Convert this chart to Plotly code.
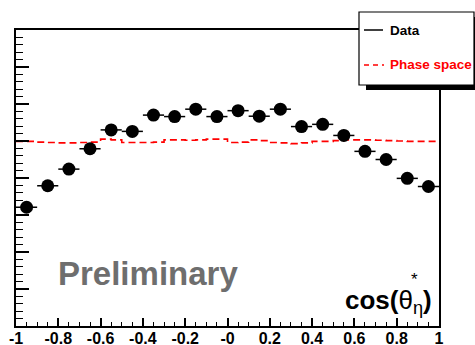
import plotly.graph_objects as go

# ---- data ----
bin_centers = [-0.95, -0.85, -0.75, -0.65, -0.55, -0.45, -0.35, -0.25, -0.15, -0.05,
               0.05, 0.15, 0.25, 0.35, 0.45, 0.55, 0.65, 0.75, 0.85, 0.95]
data_y = [3.21, 3.79, 4.24, 4.79, 5.30, 5.26, 5.70, 5.66, 5.86, 5.66,
          5.82, 5.67, 5.86, 5.39, 5.45, 5.15, 4.72, 4.50, 3.99, 3.77]
data_xerr = [0.05] * 20

ps_edges = [-1.0, -0.95, -0.9, -0.85, -0.8, -0.75, -0.7, -0.65, -0.6, -0.55,
            -0.5, -0.45, -0.4, -0.35, -0.3, -0.25, -0.2, -0.15, -0.1, -0.05,
            0.0, 0.05, 0.1, 0.15, 0.2, 0.25, 0.3, 0.35, 0.4, 0.45,
            0.5, 0.55, 0.6, 0.65, 0.7, 0.75, 0.8, 0.85, 0.9, 0.95, 1.0]
ps_y = [4.99, 4.99, 4.97, 4.96, 4.95, 4.95, 4.96, 4.97, 5.05, 5.03,
        4.96, 4.96, 4.96, 4.97, 5.03, 5.03, 5.02, 5.03, 5.05, 5.05,
        4.96, 4.97, 5.03, 5.01, 4.96, 4.95, 4.93, 4.95, 4.99, 4.99,
        5.01, 5.03, 5.03, 5.03, 5.02, 5.01, 5.00, 4.99, 4.99, 4.99]

x_tickvals = [-1, -0.8, -0.6, -0.4, -0.2, 0, 0.2, 0.4, 0.6, 0.8, 1]
x_ticktext = ["-1", "-0.8", "-0.6", "-0.4", "-0.2", "-0", "0.2", "0.4", "0.6", "0.8", "1"]

FONT = "Liberation Sans, Arial, sans-serif"

fig = go.Figure()

fig.add_trace(go.Scatter(
    x=ps_edges, y=ps_y + [ps_y[-1]], mode="lines", line_shape="hv",
    line=dict(color="#ff0000", width=1.6, dash="7px,4px"),
    showlegend=False, hoverinfo="skip"))

fig.add_trace(go.Scatter(
    x=bin_centers, y=data_y, mode="markers",
    marker=dict(color="black", size=13, symbol="circle"),
    error_x=dict(type="data", array=data_xerr, color="black", thickness=1.5, width=0),
    showlegend=False))

W, H = 475, 345
L, R, T, B = 16, 36, 30, 19

# plot area on screen: x 16..439, y 30..326
SX0, SX1, SY0, SY1 = 16, 439, 30, 326


def px(x):
    return (x - SX0) / (SX1 - SX0)


def py(y):
    return (SY1 - y) / (SY1 - SY0)


shapes = [
    # legend shadow
    dict(type="rect", xref="paper", yref="paper",
         x0=px(366), x1=px(490), y0=py(90), y1=py(17),
         fillcolor="black", line=dict(width=0), layer="above"),
    # legend box
    dict(type="rect", xref="paper", yref="paper",
         x0=px(359), x1=px(474), y0=py(85), y1=py(12),
         fillcolor="white", line=dict(color="black", width=1.2), layer="above"),
    # legend samples
    dict(type="line", xref="paper", yref="paper",
         x0=px(364), x1=px(383), y0=py(30), y1=py(30),
         line=dict(color="black", width=1.5), layer="above"),
    dict(type="line", xref="paper", yref="paper",
         x0=px(364), x1=px(384), y0=py(65), y1=py(65),
         line=dict(color="#ff0000", width=1.6, dash="5px,4px"), layer="above"),
]

annotations = [
    dict(text="<b>Data</b>", xref="paper", yref="paper", x=px(388), y=py(30),
         xanchor="left", yanchor="middle", showarrow=False,
         font=dict(family=FONT, size=13.5, color="black")),
    dict(text="<b>Phase space</b>", xref="paper", yref="paper", x=px(388), y=py(65),
         xanchor="left", yanchor="middle", showarrow=False,
         font=dict(family=FONT, size=13.5, color="#ff0000")),
    dict(text="<b>Preliminary</b>", xref="paper", yref="paper", x=px(56), y=py(273),
         xanchor="left", yanchor="middle", showarrow=False,
         font=dict(family=FONT, size=33, color="#6e6e6e")),
    dict(text="<b>cos(</b>θ<sub>η</sub><b>)</b>", xref="paper", yref="paper",
         x=px(434), y=py(301), xanchor="right", yanchor="middle", showarrow=False,
         font=dict(family=FONT, size=26, color="black")),
    dict(text="*", xref="paper", yref="paper",
         x=px(414), y=py(279), xanchor="center", yanchor="middle", showarrow=False,
         font=dict(family=FONT, size=17, color="black")),
]

fig.update_layout(
    width=W, height=H,
    margin=dict(l=L, r=R, t=T, b=B, pad=0, autoexpand=False),
    paper_bgcolor="white", plot_bgcolor="white",
    font=dict(family=FONT),
    shapes=shapes, annotations=annotations,
    xaxis=dict(
        range=[-1, 1], showgrid=False, zeroline=False, automargin=False,
        showline=True, linecolor="black", linewidth=2, mirror=True,
        ticks="inside", ticklen=8, tickwidth=1.5, tickcolor="black",
        tickvals=x_tickvals, ticktext=x_ticktext, ticklabelstandoff=-3,
        tickfont=dict(family=FONT, size=16, color="black", weight="bold"),
        minor=dict(dtick=0.05, tick0=-1, ticks="inside", ticklen=4,
                   tickwidth=1.2, tickcolor="black", showgrid=False),
    ),
    yaxis=dict(
        range=[0, 8], showgrid=False, zeroline=False, automargin=False,
        showline=True, linecolor="black", linewidth=2, mirror=True,
        ticks="inside", ticklen=13, tickwidth=1.5, tickcolor="black",
        tick0=0, dtick=1, showticklabels=False,
        minor=dict(dtick=0.2, tick0=0, ticks="inside", ticklen=7,
                   tickwidth=1.2, tickcolor="black", showgrid=False),
    ),
)

fig.write_html(
    "out.html",
    config={"displayModeBar": False},
    post_script="document.body.style.margin='0';document.body.style.overflow='hidden';",
)
